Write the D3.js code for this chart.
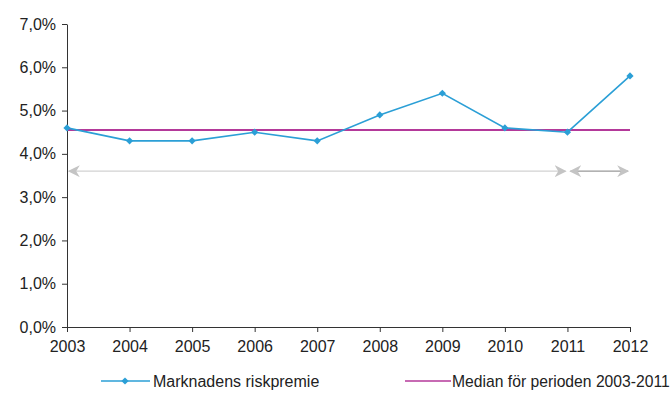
<!DOCTYPE html>
<html>
<head>
<meta charset="utf-8">
<script src="https://cdn.jsdelivr.net/npm/d3@7"></script>
<style>
  body { margin: 0; background: #fff; }
  svg text { font-family: "Liberation Sans", Arial, sans-serif; fill: #222; }
</style>
</head>
<body>
<div id="content"></div>
<script>
var width = 671;
var height = 416;

var years = [2003, 2004, 2005, 2006, 2007, 2008, 2009, 2010, 2011, 2012];
var riskpremie = [4.6, 4.3, 4.3, 4.5, 4.3, 4.9, 5.4, 4.6, 4.5, 5.8];
var median = 4.55;
var yTicks = [0, 1, 2, 3, 4, 5, 6, 7];
var seriesNames = ["Marknadens riskpremie", "Median för perioden 2003-2011"];

var blue = "#2b9fd6";
var magenta = "#b4399a";

var svg = d3.select("#content").append("svg").attr("width", width).attr("height", height);

var x = d3.scaleLinear().domain([2003, 2012]).range([67, 630]);
var y = d3.scaleLinear().domain([0, 7]).range([327, 24]);

var fmt = function (d) { return d3.format(".1f")(d).replace(".", ",") + "%"; };

// y axis
var yAxis = svg.append("g")
    .attr("transform", "translate(67,0)")
    .call(d3.axisLeft(y).tickValues(yTicks).tickSize(5).tickSizeOuter(0).tickFormat(fmt));
yAxis.selectAll("text").style("font-size", "16px").attr("dx", "-3");
yAxis.selectAll("line, path").attr("stroke", "#333");

// x axis
var xAxis = svg.append("g")
    .attr("transform", "translate(0,327)")
    .call(d3.axisBottom(x).tickValues(years).tickSize(5).tickSizeOuter(0).tickFormat(d3.format("d")));
xAxis.selectAll("text").style("font-size", "16px").attr("dy", "1.05em");
xAxis.selectAll("line, path").attr("stroke", "#333");

// faint period arrows
var arrowY = y(3.6);
var defs = svg.append("defs");
defs.append("marker").attr("id", "ah").attr("viewBox", "0 0 10 10").attr("refX", 9).attr("refY", 5)
    .attr("markerWidth", 10).attr("markerHeight", 10).attr("orient", "auto-start-reverse")
    .append("path").attr("d", "M0,0 L10,5 L0,10 L3,5 Z").attr("fill", "#c4c4c4");
svg.append("line")
    .attr("x1", x(2003) + 2).attr("x2", x(2011) - 2)
    .attr("y1", arrowY).attr("y2", arrowY)
    .attr("stroke", "#d2d2d2").attr("stroke-width", 1.2)
    .attr("marker-start", "url(#ah)").attr("marker-end", "url(#ah)");
svg.append("line")
    .attr("x1", x(2011) + 3).attr("x2", x(2012) - 2)
    .attr("y1", arrowY).attr("y2", arrowY)
    .attr("stroke", "#999").attr("stroke-width", 1.2)
    .attr("marker-start", "url(#ah)").attr("marker-end", "url(#ah)");

// median line
svg.append("line")
    .attr("x1", x(2003)).attr("x2", x(2012))
    .attr("y1", y(median)).attr("y2", y(median))
    .attr("stroke", magenta).attr("stroke-width", 2);

// risk premium line
var data = years.map(function (d, i) { return { year: d, value: riskpremie[i] }; });
var line = d3.line().x(function (d) { return x(d.year); }).y(function (d) { return y(d.value); });

svg.append("path")
    .datum(data)
    .attr("d", line)
    .attr("fill", "none")
    .attr("stroke", blue)
    .attr("stroke-width", 1.6);

var diamond = d3.symbol().type(d3.symbolSquare).size(26);
svg.selectAll(".pt")
    .data(data)
    .enter()
    .append("path")
    .attr("class", "pt")
    .attr("d", diamond)
    .attr("transform", function (d) { return "translate(" + x(d.year) + "," + y(d.value) + ") rotate(45)"; })
    .attr("fill", blue);

// legend
var legY = 381;
var leg1 = svg.append("g").attr("transform", "translate(101," + legY + ")");
leg1.append("line").attr("x1", 0).attr("x2", 49).attr("stroke", blue).attr("stroke-width", 1.6);
leg1.append("path").attr("d", diamond).attr("transform", "translate(24,0) rotate(45)").attr("fill", blue);
leg1.append("text").attr("x", 52).attr("y", 6).style("font-size", "16px").text(seriesNames[0]);

var leg2 = svg.append("g").attr("transform", "translate(405," + legY + ")");
leg2.append("line").attr("x1", 0).attr("x2", 46).attr("stroke", magenta).attr("stroke-width", 1.6);
leg2.append("text").attr("x", 47).attr("y", 6).style("font-size", "15.7px").text(seriesNames[1]);
</script>
</body>
</html>
